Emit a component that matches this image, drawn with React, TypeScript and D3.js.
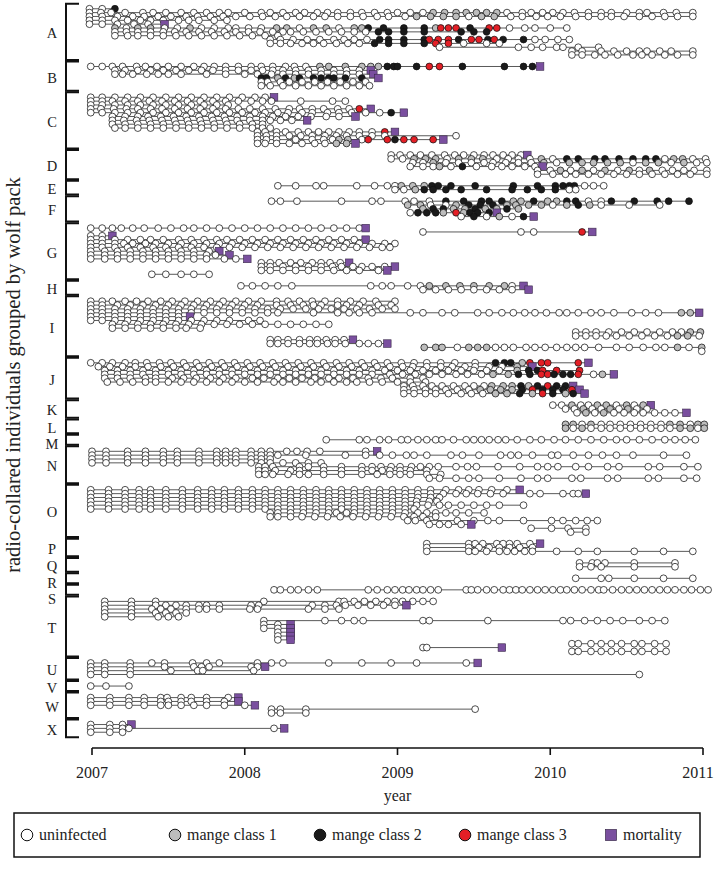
import React from "react";
import * as d3 from "d3";

// month offsets since Jan 2007; suffix: g = mange class 1, b = class 2, r = class 3, m = mortality
const years = [2007, 2008, 2009, 2010, 2011];
const legendLabels = ["uninfected", "mange class 1", "mange class 2", "mange class 3", "mortality"];
const legendKeys = ["u", "g", "b", "r", "m"];
const packNames = ["A","B","C","D","E","F","G","H","I","J","K","L","M","N","O","P","Q","R","S","T","U","V","W","X"];

const packA = [
  "-.2 .8 1.8b",
  "-.2 .7 1.5 2.6 4 4.8 5.8 7 8 9 10 10.7 12 13.3 14 15 16 16.7 17.7 18.5 19.3 20.3 21.2 22.2 23.2 24 25 26 26.8g 27.7g 28.6g 29.4g 30.2g 31g 31.8g 32.6 33.8 34.5 35.4 36.2 37 37.9 39 40 40.8 42 43 43.6 44.9 45.9 47.2",
  "-.2 .8 2 3.2 4.1 5.2 6.2 7.4 8.3 9.3 10.3 11.3 12.4 13.4 14.4 15.3 16.3 17.4 18.3 19.3 20.3 21.3 22.4 23.3 24.6 25.5g 26.6g 27.6g 28.6g 29.6 30.6g 31.6g 32.9 33.8 34.9 35.8 36.8 38 39 40 40.8 41.8 43 44 45 46 47.2",
  "-.2 .8 1.8 2.8 3.8 4.6 5.6 6.8 7.6 8.4 9.6 10.6",
  "-.2 .8 2 3.3 4.4 5.7m",
  "1.8g 2.7 3.6g 4.6g 5.7 6.7 7.7g 8.6 9.6 10.7 11.3 12.3 13.3 14.5g 15.3g 16.3 17.4g 18.4g 19.4 20.6g 21.2g 21.7b 22.9b 24.5b 26.1b 27g 27.4r 28r 28.6r 29.7b 31.2r 31.8r 32.8 34 34.8 36 37.3",
  "1.8 2.7 3.6 4.6 5.6 6.5 7.4 8.4 9.4 10.4 11.3 12.3 13.2 14.2 15 15.6 16.6 17.6 18.6 19.6 20.6 21.5 22.5b 23.3b 24.5b 26.1b 29b 30b 31b",
  "1.8 2.8 3.6 4.6 5.6 6.6 7.6 8.6 9.6 10.6 11.6 12.6 13.6 14.6",
  "14 14.8 15.8 16.9 17.9 19 19.8 20.6 21.6 22.6b 23.3b 24.5b 26.1b 26.5r 27.2r 28r 28.8b 29.8r 30.4r 31.1b 31.6r 32.3b 33.9b 34.8 35.6 36.6 37.5",
  "14 14.8 15.6 16.5 17.4 18.2 19.2 20.1 21 22.2b 23.3b 24.5b 26.1b 27r 28r 29.2 31 32",
  "27.3 33.5 34.5 35.4 36.5 37 38.2 39.8",
  "37.7 38.5 40 41 42 43 43.6 44.6 45.5 47.2",
  "37.7 38.5 39.5 40.3 41.3 42.5 43.2 44 45 46 47.2",
];
const packB = [
  "-.1 .8 1.6 2.4 3.5 4.2 5.1 6 7 8 8.8 9.6 10.5 11.5 12.5 13.3 14.2 15.2 15.9 16.8 17.9g 18.6g 19.9g 21.2g 21.9g 22.5g 23.2b 23.7b 24b 25.5b 26.5r 27.3r 29.1b 32.4b 33.9b 34.6b 35.2m",
  "1.8 2.6 3.6 4.6 5.6 6.6 7.6 8.6 9.5 10.5 11.5 12.5 13.4 14.2 15 16 17 18 19 20 21 21.9m",
  "1.8 2.4 3.2 4.3 5.2 6 7 9 10.5 12 13 14.1 15 16 17 18 19 20 21 22.1m",
  "13.3b 13.7b 14.6g 15.2b 15.9g 16.3b 17.4b 18b 18.6b 19b 19.9b 21.2b 22.5m",
  "13.3 13.8 14.8 15.5 16.5 17.5 18.5 19.5 20.5 21.5",
  "13.3 14 15 16 17 18 19 20 21 21.8",
];
const packC = [
  "-.1 .8 1.8 2.8 3.8 4.8 5.8 6.8 7.8 8.8 9.8 10.8 11.8 12.8 13.6 14.3m",
  "-.1 .8 1.6 2.6 3.6 4.5 5.5 6.5 7.5 8.5 9.5 10.5 11.5 12.5 13.4 14.1 16.4 18.9 19.9",
  "-.1 .8 1.8 2.8 3.8 4.8 5.8 6.8 7.8 8.8 9.8 10.7",
  "-.1 .7 1.7 2.7 3.6 4.6 5.5 6.5 7.5 8.5 9.5 10.5 11.5 12.4 13.4 14.4 15.5 16.3 17.3 18.2 19.3 20.2 21r 21.9m",
  "-.1 .8 1.8 2.8 3.8 4.8 5.8 6.8 7.8 8.8 9.8 10.8 11.8 12.8 13.6 14.6 15.4 16.5 17.3 18.5 19.4 20.4 21.5 22.6 23.5b 24.5m",
  "1.6 2.6 3.6 4.4 5.4 6.4 7.4 8.4 9.4 10.4 11.4 12.4 13.4 14.2 15.2 16.2 17.2 18.4 19.4 20.7m",
  "1.6 2.5 3.5 4.5 5.5 6.5 7.5 8.5 9.5 10.5 11.4 12.4 13.4 14 14.8 15.7 16.9m",
  "1.6 2.6 3.6 4.6 5.6 6.6 7.6 8.6 9.6 10.6 11.6 12.6 13.4",
  "1.8 2.6 3.6 4.6 5.6 6.6 7.6 8.6 9.6 10.6 11.6 12.6 13.4 14",
  "13 13.6 14.5 15.2 16.2 17 17.8 18.6 19.4 20.2 21 22 23r 23.8m",
  "13 13.7 14.5 15.5 16.4 17.3 18.3 19.2 20 21 22 23 28.6",
  "13 13.7 14.5 16 17.3 18.2 18.9 19.4g 20.1g 21.2 21.7r 23.2r 23.8b 24.5r 25.3r 26.8r 27.6m",
  "13 13.6 14.5 15.5 16.5 17.5 18.3 19.2g 20g 20.7m",
];
const packD = [
  "23.5 24.2 25 25.8 26.7 27.7 28.5 29.2 30 30.8 31.5 32.3 33 33.7 34.2m",
  "23.5 24.4 25.3g 26.2g 27g 27.9 28.8g 29.8g 30.7g 31.8 32.7 33.5 34.4 35.3g 36.2 37.3b 38.2b 39.5b 40.3b 41.4b 42.5b 43.5b 44.3b 45 45.7g 46.4g 47.2 48.2",
  "25.2 26 26.8g 27.8 28.8 29.8 30.8 31.5 32.5 33.5 34.5 35.5g 36.5 37.5g 38.5g 39.4g 40.5g 41.5g 42.5 43.5g 44.5g 45.5 46.5g 47.5 48.3",
  "25 26 26.8 27.3g 28.2 29.1b 30.2 31.4 32.2 33 34 34.8 35.4m",
  "35 36 36.8g 37.6 38.5g 39.4 40.3g 41.3 42.2g 43 43.8g 44.8 45.6 46.5 47.3 48.3",
  "35 36.2 37.2 38 39 40 41 42 43 44 45 46 47 48.3",
];
const packE = [
  "14.6 16 17.6 18.2 20.8 22.2 23.2 23.8 24.3g 25.2g 26.1g 26.7b 27.2b 28.2b 30.1b 33.1b 35b 36.4b 37b 37.5b 37.9b 38.7 39.4 40.2",
  "23.8 24.5 25.4g 26.1b 26.8b 27.8b 29b 31b 33b 34.2b 35.3b 36.4b 37.5 38",
];
const packF = [
  "14.1 14.8 16.1 19.6 22 22.7 24.6 25.3 26.5 27.8b 29.2b 30.6b 31.2b 32.2b 33.1g 33.7g 34.7b 35.8g 36.5g 37.3b 38b 39 40 40.8b 42.6b 44.4b 45.3b 46.9b",
  "24.8g 25.8g 26.6 27.8 28.6g 29.6b 30.5b 31.5b 32.6g 33.3g 34.3g 35.3g 36.2 37.3g 38.2b 39.1g 40 42.2 44.6",
  "26g 26.8b 27.6b 28.4g 29.3g 30.1b 30.9g 31.8g 32.6b 33.5g",
  "25 25.6b 26.3b 27b 27.6g 28.6r 29.2g 29.7b 30.3b 31.2b 31.8m",
  "29 30b 31 32g 33 33.9b 34.7m",
];
const packG = [
  "-.1 .8 1.6 2.3 3.2 4.1 5.2 6.2 7.2 8 9 10 11 12 13 14 15 16 17 18 19 20 21 21.5m",
  "26 33.7 34.7 38.5r 39.3m",
  "-.1 .8 1.6m",
  "-.1 .8 1.8 2.8 3.8 4.6 5.6 6.8 7.8 8.8 9.8 10.6 11.6 12.6 13.6 14.6 15.6 16.6 17.6 18.6 19.6 20.6 21.5m",
  "-.1 .8 1.8 2.5 3.2 4.2 5 6 7 8 9 10 11 12 13 14 15 16 17 18 19 20 21 22 23 23.8",
  "-.1 .8 1.8 2.8 3.8 4.8 5.8 6.8 7.8 8.8 9.8 10.8 11.8 12.8 13.8 14.8 15.8 16.8 17.8 18.8 19.8 20.8 21.8 22.8 23.4",
  "-.1 1 2 3 4 5 6 7 8 9.2 10m",
  "-.1 1 2 3 4 5 6 7 8 9 9.7 10.8m",
  "-.1 1 2 3 4 5 6 7 8 9 10.4 11.3 12.2m",
  "13.3 14 14.7 15.6 16.4 17.3 18 18.7 19.5 20.2m",
  "13.3 14 15 16 17 18 18.9 19.6 20.5 21.2 22 23 23.8m",
  "13.3 14 15 16 17 18 19 20 21 22.5 23.2m",
  "4.7 5.8 7 8 9.2",
];
const packH = [
  "11.7 12.6 13.6 14.6 15.7 21.9 22.8 23.5 24.8 25.8 26.5g 27.8g 28.9g 30g 31.2g 32.4g 33 33.9m",
  "26 27 28 29 30 31 32 33 34.3m",
];
const packI = [
  "-.1 .8 1.6 2.6 3.5 4.4 5.4 6.3 7.3 8.3 9.3 10.3 11.3 12.3 13.3 14.5 15.4 16.3 17.3 18.3 19.3 20.3 21.3 22.3 23.8",
  "-.1 .8 2 3 4 5 6 7 8 9 10 11 12 13 14.5 15.6 16.6 17.4 18 19.3 20 21 22.5 23.5",
  "-.1 .8 1.8 2.8 3.8 4.8 5.8 6.8 7.8 8.8 9.8 10.8 11.8 12.8 13.8 14.8 15.8 16.8 17.8 18.8 19.8 20.8 21.8 22.8 23.8",
  "-.1 .8 1.8 2.8 3.8 4.8 5.8 6.8 7.8 8.8 9.8 10.8 11.8 12.8 13.8 14.6 17.4 19.3 20.2 21 22 25 26 27.5 28.5 30.3 31.2 32.2 33.1 34 34.8 35.7 36.7 37.3 38.2 39.2 40 41 42.4 43.5 44.5 46.3g 47g 47.7m",
  "-.1 .8 1.8 2.8 3.8 4.8 5.8 6.8 7.7m",
  "-.1 .8 1.8 2.8 3.8 4.8 5.8 6.8 7.8 8.8 9.8 10.8 12.3 13.2",
  "1.6 2.6 3.6 4.6 5.6 6.6 7.6 8.6 9.6 10.6 11.6 12.6 13.6 14.6 15.6 16.6 17.6 18.6",
  "1.6 2.6 3.6 4.6 5.6 6.6 7.4 8.5",
  "38 38.8 39.6 40.6 41.6 42.6 43.6 44.6 45.6 46.3 47g 47.8g",
  "38 38.8 39.6 40.4 41.2 42.2 43.2 44.2 45.2 46g 46.8g 47.7",
  "14 14.6 15.4 16.3 17.1 17.7 18.4 19.1 19.8 20.5m",
  "14 14.6 15.4 16.3 17.1 17.7 18.5 19.1 19.9 21 21.7 22.5 23.2m",
  "26.1g 27g 27.5g 28.7 29.6g 30.3g 31g 31.7 32.4 33.1 34.1 34.8 35.6 36.5 37.3 38 38.7 39.8 41.2 42.2 43.3 44.3 45 46g 46.9 47.9g",
  "47.9",
];
const packJ = [
  "-.1 .8 1.6 2.6 3.4 4.3 5.3 6.2 7.2 8.2 9.2 10.2 11.2 12.2 13.2 14.2 15.2 16.2 17.2 18.2 19.2 20.2 21.2 22.2 23.2 24.3 25.3 26.3 27.4 28.5 30.1 31.7b 32.4b 32.9b 33.8g 34.4r 35.3r 35.8r 38.2r 39m",
  ".5 1.4 2.4 3.4 4.4 5.4 6.4 7.4 8.4 9.4 10.4 11.4 12.4 13.4 14.4 15.4 16.4 17.4 18.4 19.4 20.4 21.4 22.4 23.4 24.4 25.2 26.3 27.4 28.3 29.3 30.1 31.2 32.2 33.4g 34.6m",
  "1 2 3 4 5 6 7 8 9 10 11 12 13 14 15 16 17 18 19 20 21 22 23 24 25 26 27 28 29 30 31 32 33.4g 34.3b 35b 35.4r 36.5r 38.3r",
  "1 2 3 4 5 6 7 8 9 10 11 12 13 14 15 16 17 18 19 20 21 22 23.4 24.4 25.4 26.5 27.5 28.6 29.5 30.6 31.5g 32.7g 33.5b 34.4b 35.3r 35.8r 36.3b 37b 37.6b 38.2r 39.4 40.1g 41m",
  "1 2 3 4.2 5 6.3 7.2 8.2 9.3 10.3 11.3 12.6 13.5 14.6 15.5 16.5 17.5 18.6 19.4 20.5 21.7 22.7 23.6 25 26",
  "1.2 2.2 3.2 4.2 5 6 7 8 9 10 11 12 13 14.3 15 16 17.2 18 19 20 20.8 21.8 22.8 24 25 26.2",
  "24.5 25.2 26 26.7 27.5 28.4 29.3 30 30.8 31.4g 32.3g 33g 33.7b 34.3g 35b 35.8r 36.5b 37.2b 37.8m",
  "24.5 25.3 26.2 27 27.8 28.7 29.6 30.5g 31.3g 32.1g 33g 33.8b 34.6r 35.4b 36.2b 37b 37.7r 38.3m",
  "24.5 25.3 26.2 27 28 29 29.8 30.7 31.7g 32.6g 33.6b 34.6g 35.4r 36.2b 37.2g 37.8b 38.7m",
];
const packK = [
  "36.2 36.9 37.7g 38.4 39 39.7g 40.4g 41.2 42g 42.6 43.3g 43.9m",
  "37.2 37.9 38.6g 39.3 40 40.7g 41.4 42.1g 42.8 43.6",
  "38.1 38.8g 39.5 40.2g 41 41.8 42.6 43.3 44.2 45 45.8 46.7m",
];
const packL = [
  "37.2g 37.8g 38.5 39.2g 40 40.7 41.5 42.3 43.1 43.9 44.7 45.4g 46.2g 47 47.6g 48.1g",
  "37.2g 37.8 38.5g 39.2 40 40.7 41.5 42.3 43.1 43.9 44.7 45.4 46.2g 47g 47.6 48.1g",
];
const packM = [
  "18.4 21 21.6 22.6 23.3 24.3 24.8 25.6 26.3 27 27.5 28.4 29.4 30 30.6 31.2 31.9 32.5 33.4 34.4 35.3 36.3 37.2 38.2 39.2 40.2 41.2 42 43 44 45 45.8 46.6 47.4",
];
const packN = [
  "0 1.1 2.8 4.2 5.6 6.7 8.4 9.8 10.5 11.3 12.5 13.3 14 15.3 16.1 16.9 17.9 21.5 22.4m",
  "0 1.1 2.8 4.2 5.6 6.7 8.4 9.8 10.5 11.3 12.5 13.3 14 14.6 16.8 19.9 21.5 22.6 23.6 24.7 25.3 26.3 28.2 29.1 30.4 32.1 32.9 33.5 34.6 36.1 36.6 37.8 39 40.1 41.2 42.5 44.9 46.7",
  "0 1.1 2.8 4.2 5.6 6.7 8.4 9.8 10.5 11.3 12.5 13.3 14",
  "0 1.1 2.8 4.2 5.6 6.7 8.4 9.8 10.5 11.3 12.5 13.3 14 15 16 17 18",
  "13.1 13.6 14.2 16.3 17 18.2 19.6 21.2 22 22.7 23.5 24.2 25.1 25.8 26.5 27.2 28.6 29.5 30.2 31.9 33.6 35 35.8 36.6 38 39 40.5 41.4 43.7 44.6 46.5 47.6",
  "13.1 13.6 14.4 15.6 16.3 18.2 19.6 21.2 22 22.8 23.4 24.2 25 26.3",
  "13.1 13.6 14.2 15.4 16.3 17 18.2 19.6 21.2 22.4 23.4 24.2 25 26.3 27.4",
  "26.5 27.3 28.6 29.6 30.4 32 33.7 35 35.8 37.7 38.4 40.5 41.3 43.7 44.5 46.5 47.5",
];
const packO = [
  "-.1 1.3 2.6 3.7 4.6 5.8 7.1 8.3 9.4 10.4 11.5 12.6 13.6 14.6 15.6 16.6 17.6 18.6 19.6 20.6 21.6 22.6 23.6 24.6 25.6 26.6 27.8 28.8 29.6 30.4 31.4 32.6 33.6m",
  "-.1 1.3 2.6 3.7 4.6 5.8 7.1 8.3 9.4 10.4 11.5 12.6 13.6 14.6 15.6 16.6 17.6 18.6 19.6 20.6 21.6 22.6 23.6 24.6 25.6 26.6 27.6 28.6 29.4 30.3 31.3 32.3 34.4 35.2 37 37.8 38.2 38.8m",
  "-.1 1.3 2.6 3.7 4.6 5.8 7.1 8.3 9.4 10.4 11.5 12.6 13.6 14.6 15.6 16.6 17.6 18.6 19.6 20.6 21.6 22.6 23.6 24.6 25.6 26.6 27.3",
  "-.1 1.3 2.6 3.7 4.6 5.8 7.1 8.3 9.4 10.4 11.5 12.6 13.6 14.6 15.6 16.6 17.6 18.6 19.6 20.6 21.6 22.6 23.6 24.6 25.5 26.5 27.1",
  "-.1 1.3 2.6 3.7 4.6 5.8 7.1 8.3 9.4 10.4 11.5 12.6 13.6 14.6 15.6 16.6 17.6 18.6 19.6 20.6 21.6 22.6 23.6 24.6 25.5 26.4 27.3 28 29 30 31 32 33.9",
  "-.1 1.3 2.6 3.7 4.6 5.8 7.1 8.3 9.4 10.4 11.5 12.6 13.6 14.6 15.6 16.6 17.6 18.6 19.6 20.6 21.6 22.6 23.6 24.6 25.3",
  "14 14.6 15.6 16.6 17.6 18.6 19.2 20 20.6 21.6 22.6 23.6 24.6 25.6 26.3 27 27.8 28.6 29.6 30.8",
  "14 14.6 15.6 16.5 17.5 18.5 19.5 20.5 21.5 22.5 23.5 24.5 25.3 26 27",
  "24.8 25.4 26.3 28.7 30 31.1 32 33.9 36.1 37 38 38.9 39.7",
  "26.5 27.3 28 29 29.8m",
  "34.5 36.1 37.4 38.8",
  "37.6 38.8",
];
const packP = [
  "26.3 29.6 30.1 30.7 31.8 32.3 32.8 33.4 34.4 35.2m",
  "26.3 29.6 30.4 31.2 32 32.8 33.6 34.6",
  "26.3 29.6 30.1 31 32 32.6 33.2 34 34.6 36.5 38.2 39.7 42.6 44.9 47.2",
];
const packQ = [
  "38.3 39.3 39.7 40.3 42.6 45.8",
  "38.3 39.2 40 42.6 45.8",
];
const packR = [
  "38 40 40.6 42.6 44.9 47.2",
];
const packS = [
  "14.3 14.8 15.6 16.2 17 17.7 21.7 22.4 23.2 23.8 24.4 24.9 25.5 26 26.6 27.2 29.4 29.8 30.3 31 31.6 32.3 32.8 33.3 33.8 34.4 35 35.6 36.2 36.8 37.3 37.9 38.5 39.2 39.8 40.2 40.9 41.6 42.2 42.8 43.4 44 44.6 45.2 45.8 46.5 47.1 47.8 48.4",
];
const packT = [
  "1 3.1 5 13.5 19.4 19.8 20.6 21.4 22.3 23.2 23.8 24.4 25.2 26 26.8",
  "1 3.1 5 5.8 6.6 7.4 8.4 9 10 12.5 13.1 17.3 18.3 19.2 19.9 20.9 21.9 22.9 23.8 24.7m",
  "1 3.1 4.7 5.4 6.2 7.4 8.4 9 10 12.4 13 17 18.3 19.4",
  "1 3.1 5 5.8 6.6 7.4",
  "1 3.1 5.2 6 6.8",
  "13.5 18.3 19.6 20.6 21.3 26 26.5 31.1 37 37.6 38.7 39.7 40.7 41.7 43 44 45",
  "13.5 14.6 15.6m",
  "13.5 14.6 15.6m",
  "14.6 15.6m",
  "14.6 15.6m",
  "14.6 15.6m",
  "37.7 38.2 39.2 40 40.8 41.6 42.6 43.2 44.2 45.1",
  "26 26.3 32.2m",
  "37.7 38.2 39.2 40 40.8 41.6 42.6 43.2 44.2 45.1",
];
const packU = [
  "-.1 1 3 4.7 5.7 7.9 9 10 13 14.1 15 18.6 21.2 23.5 25.5 29.4 30.3m",
  "-.1 1 3 5.7 8 8.6 9.2 12.5 13 13.6m",
  "-.1 1 3 6.2 8.3 8.7 12.7",
  "-.1 1 3 43",
];
const packV = [
  "-.1 1.1 2.9",
];
const packW = [
  "-.1 1.4 2.9 4.1 5.4 5.9 7 7.8 9 10.7 11.5m",
  "-.1 1.4 2.9 4.1 5.4 6 7 7.8 9 10.4 11.5m",
  "-.1 1.4 2.9 4.1 5.4 6 7 8 9 10.4 12 12.8m",
  "14.1 14.8 16.8 30.1",
  "14.1 14.8 16.8",
];
const packX = [
  "-.1 1.4 2.4 3.1m",
  "-.1 1.4 2.4 2.9 14.3 15.1m",
  "-.1 1.4 2.4",
];

const packRows = [packA, packB, packC, packD, packE, packF, packG, packH, packI, packJ, packK, packL,
  packM, packN, packO, packP, packQ, packR, packS, packT, packU, packV, packW, packX];

const COLORS: Record<string, string> = {
  u: "#ffffff",
  g: "#bdbdbd",
  b: "#1a1a1a",
  r: "#e41f26",
  m: "#7a4f9f",
};

type Obs = { t: number; s: string };

function parseRow(str: string): Obs[] {
  return str.trim().split(/\s+/).map((tok) => {
    const m = tok.match(/^(-?[\d.]+)([gbrm]?)$/);
    return { t: m ? +m[1] : 0, s: m && m[2] ? m[2] : "u" };
  });
}

const FONT = "'Liberation Serif', 'DejaVu Serif', 'Times New Roman', serif";

export default function App() {
  const W = 716;
  const H = 875;
  const x = d3.scaleLinear().domain([0, 48]).range([92, 703]);

  const padSlots = 2;
  const totalSlots = d3.sum(packRows, (p) => p.length + padSlots);
  const y = d3.scaleLinear().domain([0, totalSlots]).range([3, 738]);

  const axisX = 66;
  const tickLen = 13;
  const r = 3.4;
  const sq = 7.6;
  const labelFont = 14.5;
  const minLabelGap = 16.5;

  let cursor = 0;
  const packs = packRows.map((rows, pi) => {
    const start = cursor;
    const end = cursor + rows.length + padSlots;
    cursor = end;
    const parsed = rows.map((row, ri) => ({
      obs: parseRow(row),
      slot: start + padSlots / 2 + ri + 0.5,
    }));
    return { name: packNames[pi], start, end, rows: parsed };
  });

  // label positions: bracket centres, pushed apart where small packs crowd them
  const labelY: number[] = [];
  packs.forEach((p, i) => {
    const c = (y(p.start) + y(p.end)) / 2;
    labelY.push(i === 0 ? c : Math.max(c, labelY[i - 1] + minLabelGap));
  });

  const legendItemsX = [27, 175, 320, 465, 611];

  return (
    <svg width={W} height={H} style={{ position: "absolute", left: 0, top: 0, background: "#fff" }}
      xmlns="http://www.w3.org/2000/svg">
      <rect x={0} y={0} width={W} height={H} fill="#fff" />
      {/* y title */}
      <text x={0} y={0} transform={`translate(20, 375) rotate(-90)`} textAnchor="middle"
        fontFamily={FONT} fontSize={20.5} fill="#222">
        radio-collared individuals grouped by wolf pack
      </text>

      {/* pack brackets and labels */}
      {packs.map((p, i) => {
        const y0 = y(p.start) + 0.8;
        const y1 = y(p.end) - 0.8;
        return (
          <g key={p.name}>
            <path d={`M${axisX + tickLen},${y0}H${axisX}V${y1}H${axisX + tickLen}`}
              fill="none" stroke="#111" strokeWidth={2} />
            <text x={52} y={labelY[i] + 6.5} textAnchor="middle" fontFamily={FONT}
              fontSize={labelFont} fill="#222">{p.name}</text>
          </g>
        );
      })}

      {/* individuals */}
      {packs.map((p) =>
        p.rows.map((row, i) => {
          const yy = y(row.slot);
          const ts = row.obs.map((o) => o.t);
          const t0 = d3.min(ts) as number;
          const t1 = d3.max(ts) as number;
          return (
            <g key={p.name + i}>
              <line x1={x(t0)} x2={x(t1)} y1={yy} y2={yy} stroke="#5a5a5a" strokeWidth={1} />
              {row.obs.map((o, k) =>
                o.s === "m" ? (
                  <rect key={k} x={x(o.t) - sq / 2} y={yy - sq / 2} width={sq} height={sq}
                    fill={COLORS.m} stroke="#3a2a4a" strokeWidth={0.6} />
                ) : (
                  <circle key={k} cx={x(o.t)} cy={yy} r={r} fill={COLORS[o.s]}
                    stroke="#111" strokeWidth={0.75} />
                )
              )}
            </g>
          );
        })
      )}

      {/* x axis */}
      <g>
        <line x1={x(0)} x2={x(48)} y1={748} y2={748} stroke="#111" strokeWidth={1.6} />
        {years.map((yr, i) => (
          <g key={yr}>
            <line x1={x(i * 12)} x2={x(i * 12)} y1={748} y2={755} stroke="#111" strokeWidth={1.6} />
            <text x={Math.min(x(i * 12), 698)} y={778} textAnchor="middle" fontFamily={FONT} fontSize={16}
              fill="#222">{yr}</text>
          </g>
        ))}
        <text x={(x(0) + x(48)) / 2} y={801} textAnchor="middle" fontFamily={FONT} fontSize={16}
          fill="#222">year</text>
      </g>

      {/* legend */}
      <g>
        <rect x={14} y={813} width={686} height={44} fill="none" stroke="#111" strokeWidth={1.5} />
        {legendKeys.map((k, i) => {
          const cx = legendItemsX[i];
          return (
            <g key={k}>
              {k === "m" ? (
                <rect x={cx - 5.5} y={835 - 5.5} width={11} height={11} fill={COLORS.m}
                  stroke="#3a2a4a" strokeWidth={0.7} />
              ) : (
                <circle cx={cx} cy={835} r={5.8} fill={COLORS[k]} stroke="#111" strokeWidth={1} />
              )}
              <text x={cx + 12} y={840} fontFamily={FONT} fontSize={16} fill="#222">
                {legendLabels[i]}
              </text>
            </g>
          );
        })}
      </g>
    </svg>
  );
}
